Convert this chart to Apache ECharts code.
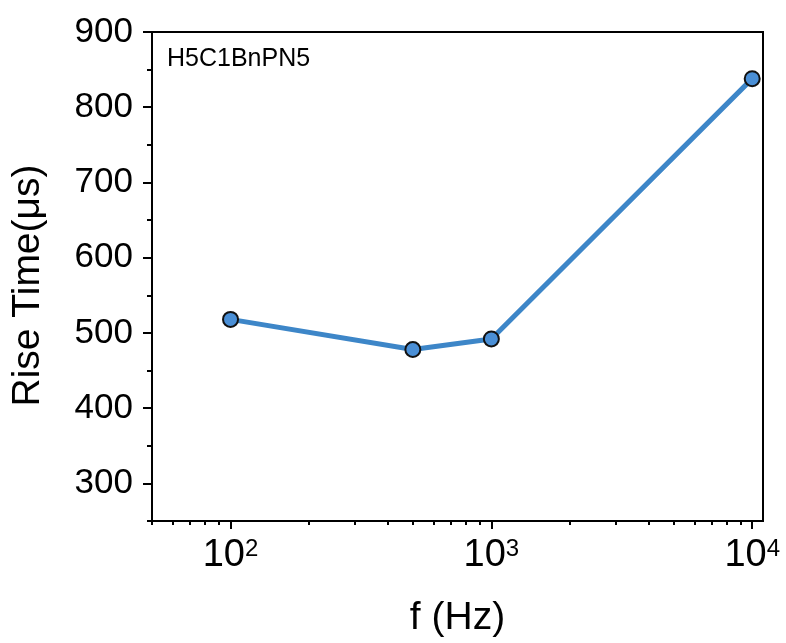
<!DOCTYPE html>
<html>
<head>
<meta charset="utf-8">
<title>Rise Time</title>
<script src="https://cdn.jsdelivr.net/npm/echarts@6/dist/echarts.min.js"></script>
<style>
html, body { margin: 0; padding: 0; background: #fff; }
#main { width: 786px; height: 643px; }
</style>
</head>
<body>
<div id="main"></div>
<script>
// data
var freq = [100, 500, 1000, 10000];
var riseTime = [518, 478, 492, 838];
var xMajor = [100, 1000, 10000];
var xMinor = [50, 60, 70, 80, 90, 200, 300, 400, 500, 600, 700, 800, 900,
	2000, 3000, 4000, 5000, 6000, 7000, 8000, 9000];
var yMajor = [300, 400, 500, 600, 700, 800, 900];
var yMinor = [250, 350, 450, 550, 650, 750, 850];

var font = 'Liberation Sans, Arial, sans-serif';
var pts = [];
for (var i = 0; i < freq.length; i++) {
	pts.push([freq[i], riseTime[i]]);
}

var chart = echarts.init(document.getElementById('main'));
var option = {
	animation: false,
	backgroundColor: '#fff',
	grid: {
		left: 152, top: 32, right: 23, bottom: 120,
		show: true, borderColor: '#000', borderWidth: 2,
		containLabel: false
	},
	graphic: [{
		type: 'text',
		left: 167, top: 47,
		style: { text: 'H5C1BnPN5', font: '25px ' + font, fill: '#000' }
	}],
	xAxis: [{
		type: 'log', min: 50, max: 11000,
		name: 'f (Hz)', nameLocation: 'middle', nameGap: 78,
		nameTextStyle: { fontSize: 39, fontFamily: font, color: '#000' },
		axisLine: { lineStyle: { color: '#000', width: 2 } },
		axisTick: { inside: false, length: 8, customValues: xMajor, lineStyle: { color: '#000', width: 2 } },
		axisLabel: {
			margin: 16, customValues: xMajor, fontSize: 38, fontFamily: font, color: '#000',
			formatter: function (v) {
				return '{base|10}{sup|' + Math.round(Math.log10(v)) + '}';
			},
			rich: {
				base: { fontSize: 38, fontFamily: font, color: '#000', lineHeight: 38 },
				sup: { fontSize: 24, fontFamily: font, color: '#000', lineHeight: 24, verticalAlign: 'top' }
			}
		},
		splitLine: { show: false }
	}, {
		type: 'log', min: 50, max: 11000, position: 'bottom',
		axisLine: { show: false },
		axisTick: { inside: false, length: 4, customValues: xMinor, lineStyle: { color: '#000', width: 2 } },
		axisLabel: { show: false },
		splitLine: { show: false }
	}],
	yAxis: [{
		type: 'value', min: 250, max: 900,
		name: 'Rise Time(μs)', nameLocation: 'middle', nameGap: 104,
		nameTextStyle: { fontSize: 39, fontFamily: font, color: '#000', padding: [0, 18, 0, 0] },
		axisLine: { lineStyle: { color: '#000', width: 2 } },
		axisTick: { inside: false, length: 9, customValues: yMajor, lineStyle: { color: '#000', width: 2 } },
		axisLabel: { margin: 19, customValues: yMajor, fontSize: 35, fontFamily: font, color: '#000' },
		splitLine: { show: false }
	}, {
		type: 'value', min: 250, max: 900, position: 'left',
		axisLine: { show: false },
		axisTick: { inside: false, length: 5, customValues: yMinor, lineStyle: { color: '#000', width: 2 } },
		axisLabel: { show: false },
		splitLine: { show: false }
	}],
	series: [{
		type: 'line',
		data: pts,
		symbol: 'circle',
		symbolSize: 15,
		lineStyle: { color: '#3d86c8', width: 5 },
		itemStyle: { color: '#4a8fd6', borderColor: '#111', borderWidth: 2 }
	}]
};
chart.setOption(option);
</script>
</body>
</html>
